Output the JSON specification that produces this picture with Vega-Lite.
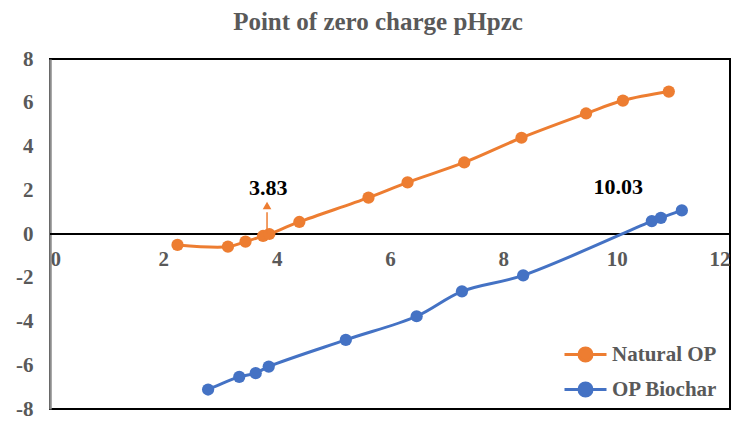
{
  "$schema": "https://vega.github.io/schema/vega-lite/v6.json",
  "width": 680,
  "height": 350,
  "autosize": {"type": "none"},
  "padding": {"left": 50, "top": 59, "right": 20, "bottom": 19},
  "background": "white",
  "title": {
    "text": "Point of zero charge pHpzc",
    "font": "Liberation Serif",
    "fontSize": 25,
    "fontWeight": "bold",
    "color": "#595959",
    "anchor": "middle",
    "offset": 13,
    "dx": -12,
    "frame": "group"
  },
  "config": {
    "view": {"stroke": "black", "strokeWidth": 2},
    "axis": {
      "labelFont": "Liberation Serif",
      "labelFontSize": 21,
      "labelFontWeight": "bold",
      "labelColor": "#595959",
      "grid": false,
      "ticks": false,
      "title": null
    }
  },
  "datasets": {
    "series": [
      {"pH": 2.25, "charge": -0.50, "sample": "Natural OP"},
      {"pH": 3.14, "charge": -0.58, "sample": "Natural OP"},
      {"pH": 3.45, "charge": -0.35, "sample": "Natural OP"},
      {"pH": 3.76, "charge": -0.09, "sample": "Natural OP"},
      {"pH": 3.87, "charge": 0.0, "sample": "Natural OP"},
      {"pH": 4.40, "charge": 0.55, "sample": "Natural OP"},
      {"pH": 5.62, "charge": 1.66, "sample": "Natural OP"},
      {"pH": 6.31, "charge": 2.36, "sample": "Natural OP"},
      {"pH": 7.31, "charge": 3.27, "sample": "Natural OP"},
      {"pH": 8.32, "charge": 4.40, "sample": "Natural OP"},
      {"pH": 9.46, "charge": 5.51, "sample": "Natural OP"},
      {"pH": 10.11, "charge": 6.10, "sample": "Natural OP"},
      {"pH": 10.92, "charge": 6.51, "sample": "Natural OP"},
      {"pH": 2.79, "charge": -7.11, "sample": "OP Biochar"},
      {"pH": 3.34, "charge": -6.53, "sample": "OP Biochar"},
      {"pH": 3.63, "charge": -6.36, "sample": "OP Biochar"},
      {"pH": 3.86, "charge": -6.06, "sample": "OP Biochar"},
      {"pH": 5.22, "charge": -4.84, "sample": "OP Biochar"},
      {"pH": 6.47, "charge": -3.76, "sample": "OP Biochar"},
      {"pH": 7.27, "charge": -2.62, "sample": "OP Biochar"},
      {"pH": 8.35, "charge": -1.89, "sample": "OP Biochar"},
      {"pH": 10.62, "charge": 0.59, "sample": "OP Biochar"},
      {"pH": 10.78, "charge": 0.74, "sample": "OP Biochar"},
      {"pH": 11.15, "charge": 1.08, "sample": "OP Biochar"}
    ],
    "labels": [
      {"pH": 3.85, "charge": 2.1, "label": "3.83"},
      {"pH": 10.03, "charge": 2.15, "label": "10.03"}
    ],
    "arrow": [
      {"pH": 3.83, "y0": 0, "y1": 1.0, "tip": 1.3}
    ],
    "zero": [
      {"y": 0}
    ]
  },
  "layer": [
    {
      "data": {"name": "zero"},
      "mark": {"type": "rule", "color": "black", "strokeWidth": 2},
      "encoding": {
        "y": {"field": "y", "type": "quantitative", "scale": {"domain": [-8, 8]}}
      }
    },
    {
      "data": {"name": "series"},
      "mark": {"type": "line", "interpolate": "catmull-rom", "strokeWidth": 3},
      "encoding": {
        "x": {
          "field": "pH", "type": "quantitative",
          "scale": {"domain": [0, 12], "nice": false, "zero": false},
          "axis": {"values": [0, 2, 4, 6, 8, 10, 12], "domain": false, "offset": -176, "labelPadding": 15, "labelExpr": "'' + datum.value"}
        },
        "y": {
          "field": "charge", "type": "quantitative",
          "scale": {"domain": [-8, 8], "nice": false},
          "axis": {"values": [-8, -6, -4, -2, 0, 2, 4, 6, 8], "domainColor": "#8c8c8c", "domainWidth": 2.5, "labelPadding": 17, "labelExpr": "'' + datum.value"}
        },
        "color": {
          "field": "sample", "type": "nominal",
          "scale": {"domain": ["Natural OP", "OP Biochar"], "range": ["#ED7D31", "#4472C4"]},
          "legend": {
            "title": null,
            "orient": "none",
            "legendX": 524,
            "legendY": 284,
            "padding": 0,
            "labelFont": "Liberation Serif",
            "labelFontSize": 21,
            "labelFontWeight": "bold",
            "labelColor": "#595959",
            "symbolType": "M-2.1,0L2.1,0M-0.65,0A0.65,0.65 0 1,1 0.65,0A0.65,0.65 0 1,1 -0.65,0",
            "symbolSize": 400,
            "symbolStrokeWidth": 3,
            "symbolOpacity": 1,
            "rowPadding": 10,
            "labelOffset": 15
          }
        }
      }
    },
    {
      "data": {"name": "series"},
      "mark": {"type": "point", "filled": true, "size": 150, "opacity": 1},
      "encoding": {
        "x": {"field": "pH", "type": "quantitative"},
        "y": {"field": "charge", "type": "quantitative"},
        "color": {"field": "sample", "type": "nominal", "legend": null}
      }
    },
    {
      "data": {"name": "arrow"},
      "mark": {"type": "rule", "color": "#ED7D31", "strokeWidth": 1.5},
      "encoding": {
        "x": {"field": "pH", "type": "quantitative"},
        "y": {"field": "y0", "type": "quantitative"},
        "y2": {"field": "y1"}
      }
    },
    {
      "data": {"name": "arrow"},
      "mark": {"type": "point", "shape": "triangle-up", "filled": true, "color": "#ED7D31", "size": 75, "opacity": 1},
      "encoding": {
        "x": {"field": "pH", "type": "quantitative"},
        "y": {"field": "tip", "type": "quantitative"}
      }
    },
    {
      "data": {"name": "labels"},
      "mark": {"type": "text", "font": "Liberation Serif", "fontSize": 22, "fontWeight": "bold", "color": "black"},
      "encoding": {
        "x": {"field": "pH", "type": "quantitative"},
        "y": {"field": "charge", "type": "quantitative"},
        "text": {"field": "label"}
      }
    }
  ]
}
